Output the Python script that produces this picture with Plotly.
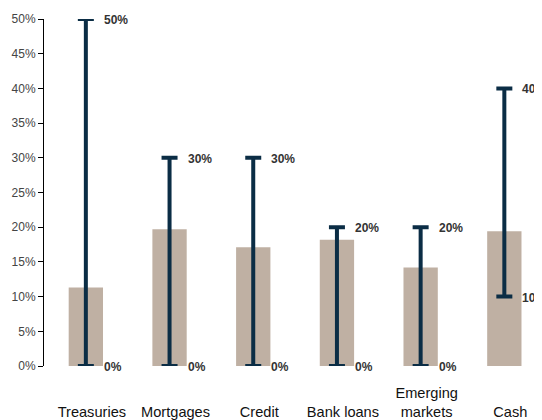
import plotly.graph_objects as go

categories = ["Treasuries", "Mortgages", "Credit", "Bank loans", "Emerging<br>markets", "Cash"]
tick_text = ["<br>Treasuries", "<br>Mortgages", "<br>Credit", "<br>Bank loans", "Emerging<br>markets", "<br>Cash"]
current = [11.3, 19.7, 17.1, 18.2, 14.2, 19.4]
range_min = [0, 0, 0, 0, 0, 10]
range_max = [50, 30, 30, 20, 20, 40]

xs = list(range(len(categories)))
mid = [(a + b) / 2 for a, b in zip(range_min, range_max)]
half = [(b - a) / 2 for a, b in zip(range_min, range_max)]

navy = "#0b2d45"
fig = go.Figure()
fig.add_trace(go.Bar(x=xs, y=current, width=0.41, marker=dict(color="#bfb0a3", line=dict(width=0)),
                     hoverinfo="skip"))
fig.add_trace(go.Scatter(x=xs, y=mid, mode="markers", marker=dict(size=1, opacity=0),
                         error_y=dict(type="data", array=half, arrayminus=half, color=navy,
                                      thickness=4, width=8),
                         cliponaxis=False, hoverinfo="skip"))

for x, lo, hi in zip(xs, range_min, range_max):
    for v in (lo, hi):
        fig.add_annotation(x=x, y=v, text=f"<b>{v}%</b>", showarrow=False, xanchor="left",
                           yanchor="middle", xshift=16, yshift=-1,
                           font=dict(family="Liberation Sans, Arial", size=12, color="#333333"))

fig.update_layout(
    width=534, height=412,
    margin=dict(l=36, r=0, t=11, b=54, autoexpand=False),
    paper_bgcolor="white", plot_bgcolor="white",
    showlegend=False,
    font=dict(family="Liberation Sans, Arial", size=12, color="#444444"),
    xaxis=dict(range=[-0.5, 5.45], tickvals=xs, ticktext=tick_text, showgrid=False, zeroline=False,
               showline=False, ticks="", tickfont=dict(size=14.6, color="#111111"),
               ticklabelstandoff=16, ticklabelshift=6, automargin=False, fixedrange=True),
    yaxis=dict(range=[0, 50], tickvals=[0, 5, 10, 15, 20, 25, 30, 35, 40, 45, 50],
               ticktext=[f"{v}%" for v in range(0, 55, 5)], showgrid=False, zeroline=False,
               showline=True, linecolor="#000000", linewidth=1, ticks="outside", ticklen=5,
               tickcolor="#000000", tickfont=dict(size=12, color="#444444"),
               automargin=False, fixedrange=True),
)

fig.write_html("out.html")
